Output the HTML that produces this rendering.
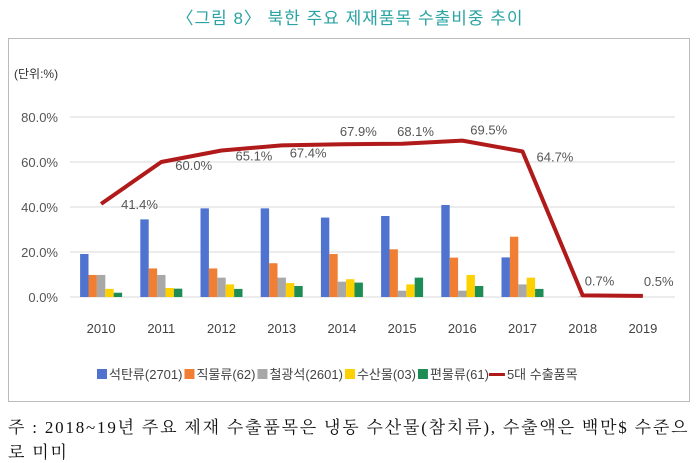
<!DOCTYPE html>
<html><head><meta charset="utf-8">
<style>
body{margin:0;width:700px;height:463px;background:#fff;font-family:"Liberation Sans","Noto Sans CJK KR",sans-serif;overflow:hidden}
#title{position:absolute;top:4px;left:0;width:700px;text-align:center;color:#2aa3a3;font-size:17px;letter-spacing:1px}
#box{position:absolute;left:8px;top:38px;width:680px;height:362px;border:1px solid #bbb}
.foot{position:absolute;left:8px;font-family:"Liberation Serif","Noto Serif CJK SC","Noto Sans CJK KR",serif;font-size:17px;letter-spacing:1.8px;color:#111;white-space:nowrap}
</style></head><body>
<div id="title">〈그림 8〉 북한 주요 제재품목 수출비중 추이</div>
<div id="box"></div>
<svg id="chart" width="700" height="463" style="position:absolute;left:0;top:0"></svg>
<div class="foot" style="top:413px">주 : 2018~19년 주요 제재 수출품목은 냉동 수산물(참치류), 수출액은 백만$ 수준으</div>
<div class="foot" style="top:438px">로 미미</div>
<script>
const years=["2010","2011","2012","2013","2014","2015","2016","2017","2018","2019"];
const coal=[19.1,34.5,39.4,39.4,35.3,36,40.9,17.6,0,0];
const textile=[9.8,12.7,12.7,15,19.1,21.2,17.5,26.8,0,0];
const iron=[9.8,9.8,8.6,8.6,6.8,2.8,2.8,5.6,0.3,0];
const seafood=[3.6,4,5.6,6.2,7.9,5.6,9.8,8.6,0,0];
const lead=[1.9,3.7,3.6,4.9,6.4,8.6,4.9,3.6,0,0];
const top5=[41.4,60.0,65.1,67.4,67.9,68.1,69.5,64.7,0.7,0.5];
const yTicks=[0,20,40,60,80];
const seriesNames=["석탄류(2701)","직물류(62)","철광석(2601)","수산물(03)","편물류(61)","5대 수출품목"];
const colors=["#4f73cf","#f07f33","#a8a8a8","#fdd000","#1e8c55","#b11a1a"];
const NS="http://www.w3.org/2000/svg",svg=document.getElementById('chart');
const x0=71,step=60.2,yBase=297,ppu=2.25;
const xc=i=>x0+step*(i+0.5), y=v=>yBase-v*ppu;
function mk(t,a,txt){const e=document.createElementNS(NS,t);for(const k in a)e.setAttribute(k,a[k]);if(txt!=null)e.textContent=txt;svg.appendChild(e);return e;}
let e=mk('text',{x:14,y:78,'font-size':12,fill:'#333'},'(단위:%)');

yTicks.forEach(t=>{
 let g=mk('line',{x1:70,x2:675,y1:y(t),y2:y(t),stroke:'#d9d9d9','stroke-width':1});
 
 let l=mk('text',{x:58,y:y(t)+5,'font-size':13,fill:'#555','text-anchor':'end'},t.toFixed(1)+'%');
 
});
years.forEach((yr,i)=>{
 let l=mk('text',{x:xc(i),y:333,'font-size':13,fill:'#444','text-anchor':'middle'},yr);
 
});
const bars=[coal,textile,iron,seafood,lead],bw=8.4;
bars.forEach((s,si)=>s.forEach((v,i)=>{
 if(v<=0)return;
 let r=mk('rect',{x:xc(i)-2.5*bw+si*bw,y:y(v),width:bw,height:v*ppu,fill:colors[si]});
 
}));
let p=mk('polyline',{points:top5.map((v,i)=>xc(i)+','+y(v)).join(' '),fill:'none',stroke:colors[5],'stroke-width':4,'stroke-linejoin':'round'});

const lblOff=[[20,5],[14,8],[14,10],[8,12],[-2,-8],[-5,-8],[8,-6],[14,10],[2,-10],[1,-10]];
top5.forEach((v,i)=>{
 let l=mk('text',{x:xc(i)+lblOff[i][0],y:y(v)+lblOff[i][1],'font-size':13,fill:'#555'},v.toFixed(1)+'%');
 
});
let lx=97;
seriesNames.forEach((n,i)=>{
 let m=i<5?mk('rect',{x:lx,y:369,width:10,height:10,fill:colors[i]}):mk('rect',{x:lx-2,y:373,width:16,height:3,fill:colors[i]});
 
 let t=mk('text',{x:lx+(i<5?12:16),y:379,'font-size':13,fill:'#444'},n);
 
 lx+=(i<5?12:16)+t.getComputedTextLength()+2;
});
</script>
</body></html>
